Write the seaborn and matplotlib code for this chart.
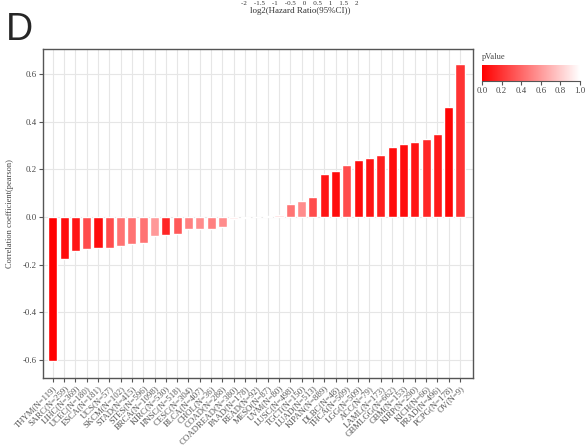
import matplotlib
matplotlib.use("Agg")
import matplotlib.pyplot as plt
import matplotlib as mpl
import numpy as np
import pandas as pd
import seaborn as sns
from matplotlib.colors import LinearSegmentedColormap

# Pan-cancer correlation per tumour type, sorted by coefficient
cancers = ["THYM", "SARC", "LIHC", "UCEC", "ESCA", "UCS", "SKCM", "STAD", "STES",
           "BRCA", "KIRC", "HNSC", "CESC", "BLCA", "CHOL", "COAD", "COADREAD",
           "PAAD", "READ", "MESO", "UVM", "LUSC", "TGCT", "LUAD", "KIPAN", "DLBC",
           "THCA", "LGG", "ACC", "LAML", "GBMLGG", "GBM", "KIRP", "KICH", "PRAD",
           "PCPG", "OV"]
sample_sizes = [119, 259, 369, 180, 181, 57, 102, 415, 596,
                1098, 530, 518, 304, 407, 36, 288, 380,
                178, 92, 87, 80, 498, 150, 513, 889, 48,
                509, 509, 79, 173, 662, 153, 290, 66, 496,
                178, 9]
correlations = [-0.605, -0.178, -0.143, -0.134, -0.132, -0.129, -0.122, -0.113, -0.110,
                -0.080, -0.076, -0.070, -0.049, -0.049, -0.049, -0.040, -0.010,
                -0.004, 0.002, 0.004, 0.008, 0.054, 0.068, 0.083, 0.182, 0.193,
                0.217, 0.238, 0.248, 0.259, 0.294, 0.307, 0.315, 0.326, 0.347,
                0.462, 0.644]
p_values = [0.00, 0.05, 0.08, 0.30, 0.05, 0.30, 0.45, 0.45, 0.45,
            0.60, 0.15, 0.35, 0.50, 0.55, 0.50, 0.55, 0.90,
            0.92, 0.95, 0.90, 0.85, 0.45, 0.55, 0.30, 0.08, 0.05,
            0.30, 0.05, 0.08, 0.12, 0.05, 0.05, 0.08, 0.15, 0.10,
            0.02, 0.20]

labels = [f"{c}(N={n})" for c, n in zip(cancers, sample_sizes)]
df = pd.DataFrame({"label": labels, "r": correlations, "p": p_values})

sns.set_theme(style="whitegrid")
plt.rcParams["font.family"] = ["Liberation Serif", "DejaVu Serif"]

cmap = LinearSegmentedColormap.from_list("pvalue", ["#ff0000", "#ffffff"])
colors = [cmap(p) for p in p_values]

W, H = 587, 446
fig = plt.figure(figsize=(W / 100, H / 100), dpi=100)
ax = fig.add_axes([43 / W, 1 - 378 / H, (473 - 43) / W, (378 - 49) / H])

sns.barplot(data=df, x="label", y="r", hue="label", palette=colors,
            legend=False, width=0.8, saturation=1, ax=ax)

ax.set_xlim(-0.86, len(labels) - 1 + 1.15)
ax.set_ylim(-0.676, 0.706)
ax.set_yticks([-0.6, -0.4, -0.2, 0.0, 0.2, 0.4, 0.6])
ax.set_yticklabels([f"{v:.1f}" for v in ax.get_yticks()])
ax.set_xlabel("")
ax.set_ylabel("Correlation coefficient(pearson)", fontsize=6, color="#444444", labelpad=6)

ax.grid(True, color="#e6e6e6", linewidth=0.8)
ax.set_axisbelow(True)
for s in ax.spines.values():
    s.set_visible(True)
    s.set_color("#555555")
    s.set_linewidth(1.0)
ax.tick_params(axis="both", which="both", length=3, width=0.8, color="#555555",
               direction="out", bottom=True, left=True, pad=1.5)
ax.tick_params(axis="y", labelsize=6.3, labelcolor="#444444")
plt.setp(ax.get_xticklabels(), rotation=45, ha="right", rotation_mode="anchor",
         fontsize=6.3, color="#555555")

# p-value colour scale
cax = fig.add_axes([482 / W, 1 - 81 / H, 98 / W, 16 / H])
norm = mpl.colors.Normalize(vmin=0, vmax=1)
cb = mpl.colorbar.ColorbarBase(cax, cmap=cmap, norm=norm, orientation="horizontal")
cb.outline.set_visible(False)
cb.set_ticks([0, 0.2, 0.4, 0.6, 0.8, 1.0])
cb.set_ticklabels(["0.0", "0.2", "0.4", "0.6", "0.8", "1.0"])
cax.tick_params(labelsize=6.3, length=3, width=0.8, color="#555555", labelcolor="#444444", pad=1.5)
cax.spines["bottom"].set_visible(True)
cax.spines["bottom"].set_color("#555555")
cax.spines["bottom"].set_linewidth(0.8)
fig.text(482 / W, 1 - 57 / H, "pValue", fontsize=6, color="#444444", va="center", ha="left")

# Panel heading
fig.text(6 / W, 1 - 30 / H, "D", fontsize=27, family="Liberation Sans", va="center", ha="left")
fig.text(300 / W, 1 - 11 / H, "log2(Hazard Ratio(95%CI))", fontsize=6.5, color="#333333",
         va="center", ha="center")
fig.text(300 / W, 1 - 1 / H, "-2    -1.5    -1    -0.5    0    0.5    1    1.5    2",
         fontsize=5, color="#333333", va="top", ha="center")

fig.savefig("out.png", dpi=100)
